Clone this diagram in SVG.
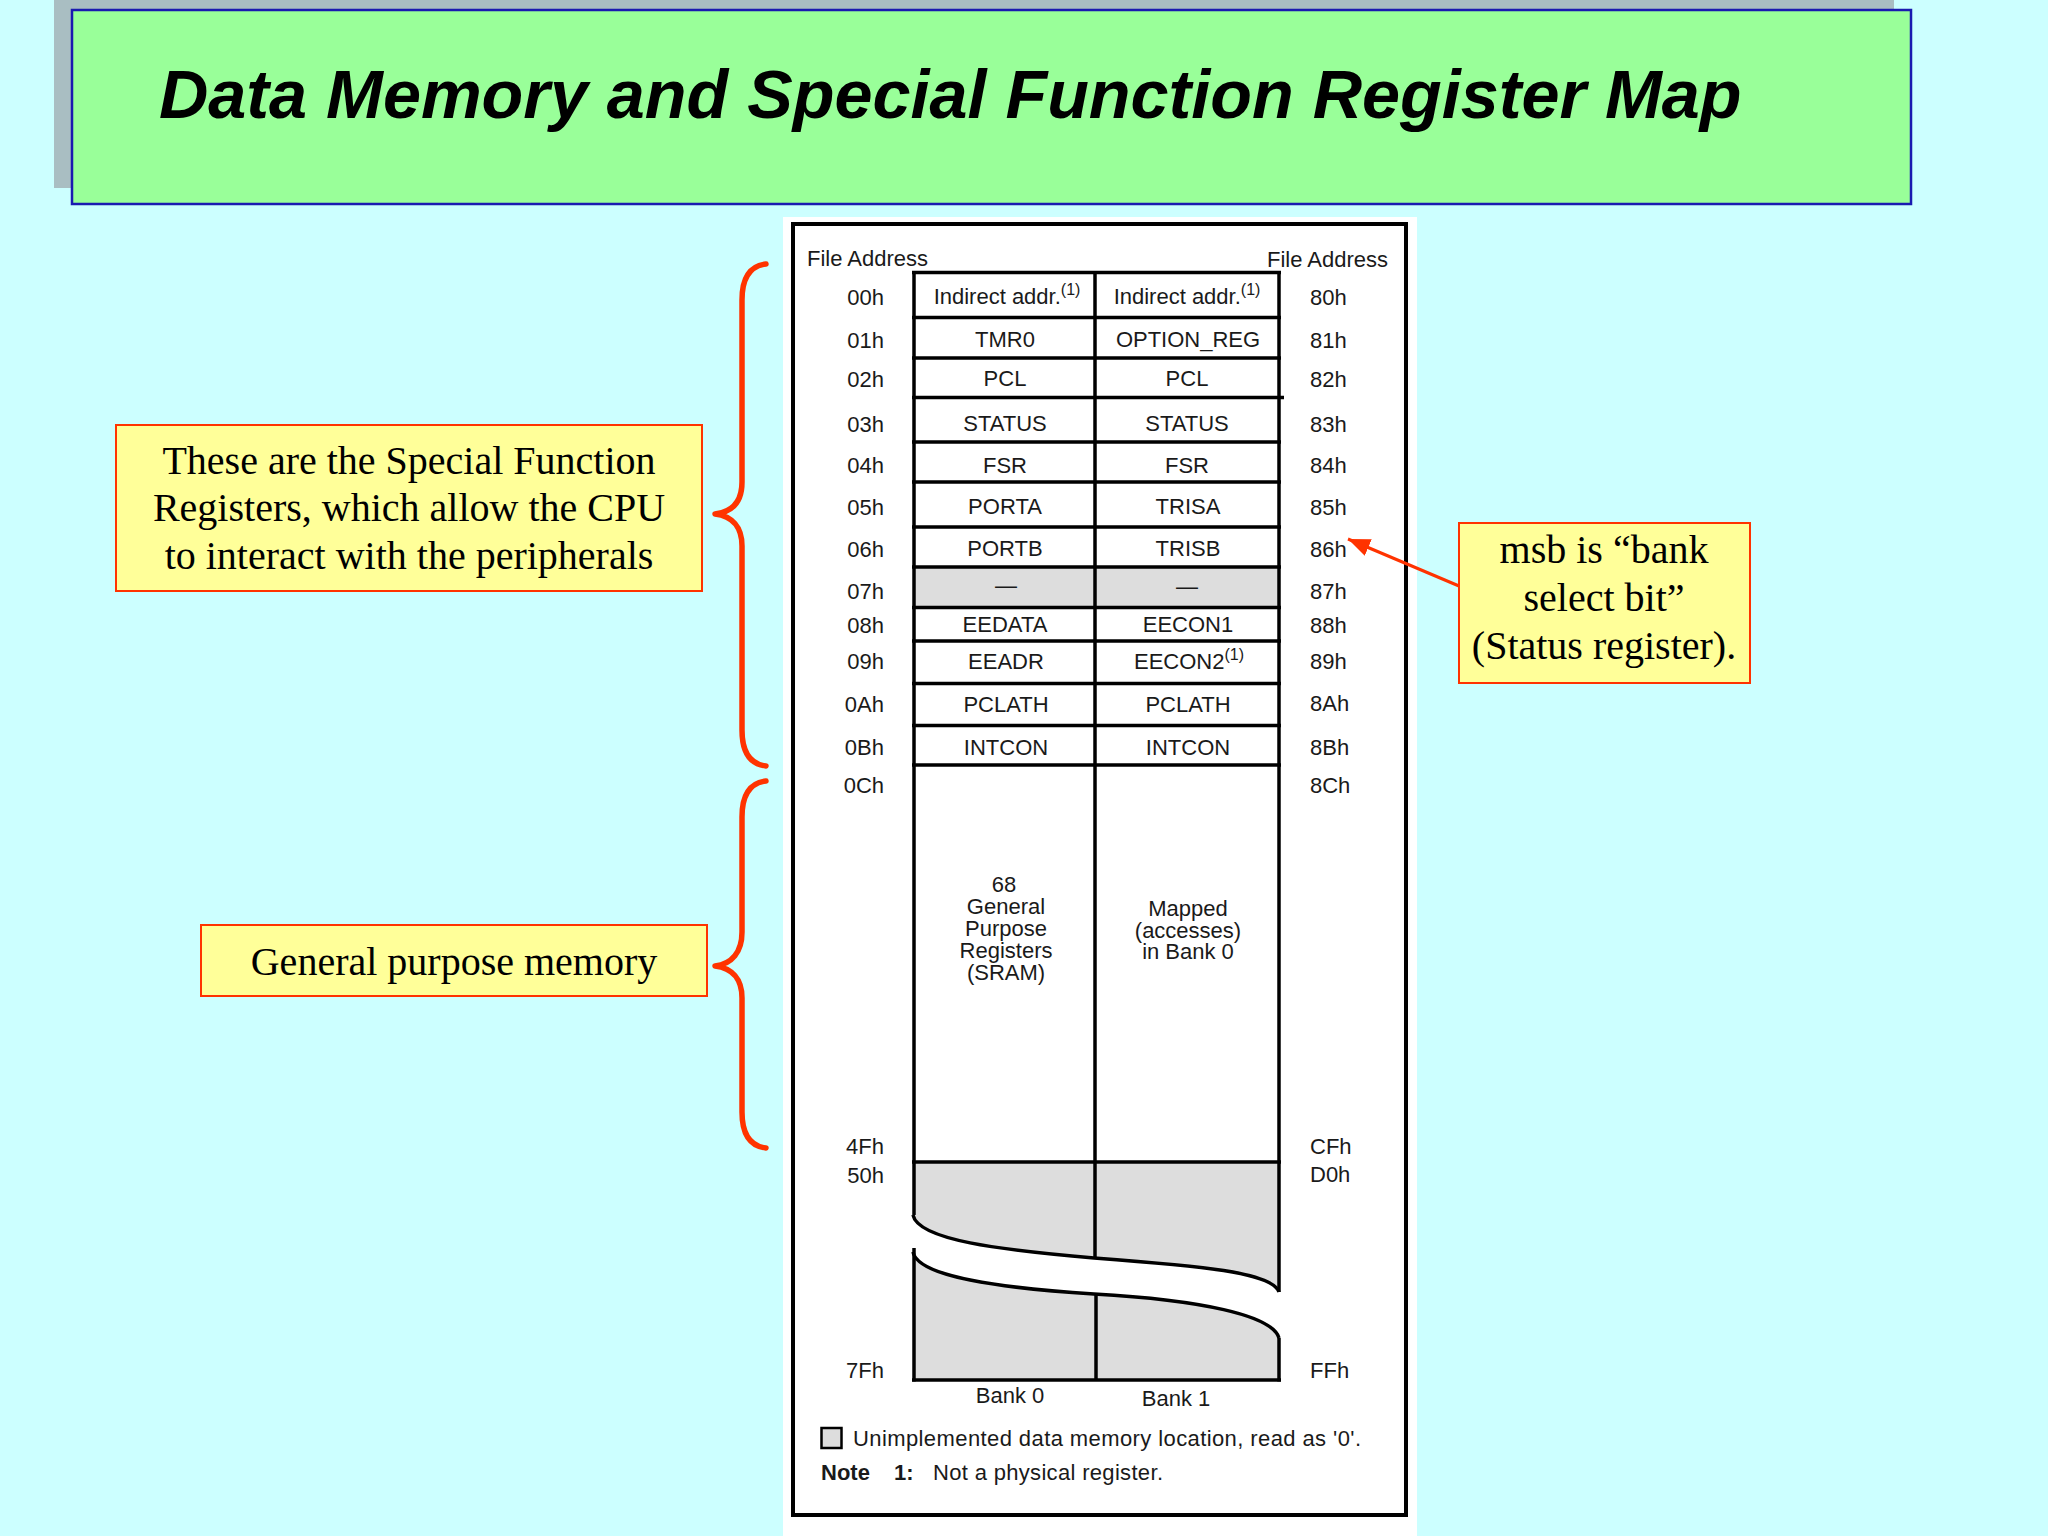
<svg xmlns="http://www.w3.org/2000/svg" width="2048" height="1536" viewBox="0 0 2048 1536">
<style>
.bg{fill:#CCFFFF}
.cs{font-family:"Liberation Sans",Arial,sans-serif;font-size:22px;fill:#1A1A1A}
.addrL{text-anchor:end}
.mid{text-anchor:middle}
.sup{font-size:16px}
.tl{stroke:#000;stroke-width:3.5;fill:none}
.gray{fill:#DDDDDD}
.note{fill:#FFFF99;stroke:#FF3300;stroke-width:2}
.nt{font-family:"Liberation Serif","Times New Roman",serif;font-size:40px;fill:#000;text-anchor:middle}
.red{stroke:#FF3300;fill:none;stroke-width:5.5;stroke-linecap:round;stroke-linejoin:round}
</style>
<defs>
<marker id="ah" markerUnits="userSpaceOnUse" markerWidth="24" markerHeight="18" refX="22" refY="9" orient="auto">
<path d="M0,0 L22,9 L0,18 Z" fill="#FF3300"/>
</marker>
</defs>
<rect class="bg" x="0" y="0" width="2048" height="1536"/>

<g id="title">
<rect x="54" y="0" width="1840" height="188" fill="#A9BEC2"/>
<rect x="72" y="10" width="1839" height="194" fill="#99FF99" stroke="#1A1AB0" stroke-width="2.5"/>
<text x="159" y="118" font-family="'Liberation Sans',Arial,sans-serif" font-size="68.3" font-weight="bold" font-style="italic" fill="#000">Data Memory and Special Function Register Map</text>
</g>

<g id="register-map">
<rect x="783" y="217" width="634" height="1319" fill="#FFFFFF"/>
<rect x="793" y="224" width="613" height="1291" fill="none" stroke="#000" stroke-width="4"/>
<text class="cs" x="807" y="266">File Address</text>
<text class="cs" x="1267" y="267">File Address</text>

<rect class="gray" x="914" y="567" width="365" height="40.5"/>
<path class="gray" d="M913,1162 L1279,1162 L1279,1292 C1272,1272 1200,1266 1094,1258 C1000,1250 918,1240 913,1215 Z"/>
<path class="gray" d="M913,1252 C918,1277 1000,1288 1094,1294 C1200,1300 1272,1315 1279,1338 L1279,1380 L913,1380 Z"/>

<g class="tl">
<line x1="912" y1="272.5" x2="1281" y2="272.5"/>
<line x1="912" y1="317.5" x2="1281" y2="317.5"/>
<line x1="912" y1="358" x2="1281" y2="358"/>
<line x1="912" y1="397.5" x2="1284" y2="397.5"/>
<line x1="912" y1="442" x2="1281" y2="442"/>
<line x1="912" y1="482" x2="1281" y2="482"/>
<line x1="912" y1="527" x2="1281" y2="527"/>
<line x1="912" y1="567" x2="1281" y2="567"/>
<line x1="912" y1="607.5" x2="1281" y2="607.5"/>
<line x1="912" y1="641" x2="1281" y2="641"/>
<line x1="912" y1="683.5" x2="1281" y2="683.5"/>
<line x1="912" y1="725.5" x2="1281" y2="725.5"/>
<line x1="912" y1="765" x2="1281" y2="765"/>
<line x1="912" y1="1162" x2="1281" y2="1162"/>
<line x1="914" y1="271" x2="914" y2="1215"/>
<line x1="1095" y1="271" x2="1095" y2="1258"/>
<line x1="1279" y1="271" x2="1279" y2="1292"/>
<path d="M913,1215 C918,1240 1000,1250 1094,1258 C1200,1266 1272,1272 1279,1292"/>
<path d="M913,1252 C918,1277 1000,1288 1094,1294 C1200,1300 1272,1315 1279,1338"/>
<line x1="914" y1="1248" x2="914" y2="1381.5"/>
<line x1="1279" y1="1338" x2="1279" y2="1381.5"/>
<line x1="1096" y1="1294" x2="1096" y2="1380"/>
<line x1="912" y1="1380" x2="1281" y2="1380"/>
</g>

<g class="cs addrL">
<text x="884" y="305">00h</text>
<text x="884" y="348">01h</text>
<text x="884" y="387">02h</text>
<text x="884" y="432">03h</text>
<text x="884" y="473">04h</text>
<text x="884" y="515">05h</text>
<text x="884" y="557">06h</text>
<text x="884" y="599">07h</text>
<text x="884" y="633">08h</text>
<text x="884" y="669">09h</text>
<text x="884" y="712">0Ah</text>
<text x="884" y="755">0Bh</text>
<text x="884" y="793">0Ch</text>
<text x="884" y="1154">4Fh</text>
<text x="884" y="1183">50h</text>
<text x="884" y="1378">7Fh</text>
</g>
<g class="cs">
<text x="1310" y="305">80h</text>
<text x="1310" y="348">81h</text>
<text x="1310" y="387">82h</text>
<text x="1310" y="432">83h</text>
<text x="1310" y="473">84h</text>
<text x="1310" y="515">85h</text>
<text x="1310" y="557">86h</text>
<text x="1310" y="599">87h</text>
<text x="1310" y="633">88h</text>
<text x="1310" y="669">89h</text>
<text x="1310" y="711">8Ah</text>
<text x="1310" y="755">8Bh</text>
<text x="1310" y="793">8Ch</text>
<text x="1310" y="1154">CFh</text>
<text x="1310" y="1182">D0h</text>
<text x="1310" y="1378">FFh</text>
</g>

<g class="cs mid">
<text x="1007" y="304">Indirect addr.<tspan class="sup" dy="-9">(1)</tspan></text>
<text x="1187" y="304">Indirect addr.<tspan class="sup" dy="-9">(1)</tspan></text>
<text x="1005" y="347">TMR0</text>
<text x="1188" y="347">OPTION_REG</text>
<text x="1005" y="386">PCL</text>
<text x="1187" y="386">PCL</text>
<text x="1005" y="431">STATUS</text>
<text x="1187" y="431">STATUS</text>
<text x="1005" y="473">FSR</text>
<text x="1187" y="473">FSR</text>
<text x="1005" y="514">PORTA</text>
<text x="1188" y="514">TRISA</text>
<text x="1005" y="556">PORTB</text>
<text x="1188" y="556">TRISB</text>
<text x="1006" y="593">—</text>
<text x="1187" y="594">—</text>
<text x="1005" y="632">EEDATA</text>
<text x="1188" y="632">EECON1</text>
<text x="1006" y="669">EEADR</text>
<text x="1189" y="669">EECON2<tspan class="sup" dy="-9">(1)</tspan></text>
<text x="1006" y="712">PCLATH</text>
<text x="1188" y="712">PCLATH</text>
<text x="1006" y="755">INTCON</text>
<text x="1188" y="755">INTCON</text>
<text x="1004" y="892">68</text>
<text x="1006" y="914">General</text>
<text x="1006" y="936">Purpose</text>
<text x="1006" y="958">Registers</text>
<text x="1006" y="980">(SRAM)</text>
<text x="1188" y="916">Mapped</text>
<text x="1188" y="938">(accesses)</text>
<text x="1188" y="959">in Bank 0</text>
<text x="1010" y="1403">Bank 0</text>
<text x="1176" y="1406">Bank 1</text>
</g>

<rect x="821.5" y="1428" width="20" height="20" fill="#DDDDDD" stroke="#000" stroke-width="2.5"/>
<text class="cs" x="853" y="1446" textLength="508" lengthAdjust="spacing">Unimplemented data memory location, read as '0'.</text>
<text class="cs" x="821" y="1480" font-weight="bold">Note</text>
<text class="cs" x="894" y="1480" font-weight="bold">1:</text>
<text class="cs" x="933" y="1480" textLength="230" lengthAdjust="spacing">Not a physical register.</text>
</g>

<g id="sfr-note">
<rect class="note" x="116" y="425" width="586" height="166"/>
<text class="nt" x="409" y="474">These are the Special Function</text>
<text class="nt" x="409" y="521">Registers, which allow the CPU</text>
<text class="nt" x="409" y="569">to interact with the peripherals</text>
</g>

<g id="gp-note">
<rect class="note" x="201" y="925" width="506" height="71"/>
<text class="nt" x="454" y="975">General purpose memory</text>
</g>

<g id="bank-note">
<rect class="note" x="1459" y="523" width="291" height="160"/>
<text class="nt" x="1604" y="563">msb is “bank</text>
<text class="nt" x="1604" y="611">select bit”</text>
<text class="nt" x="1604" y="659">(Status register).</text>
</g>

<g id="connectors">
<path class="red" d="M766,264 C749,266 742,279 742,300 L742,482 C742,502 732,512 715,514 C732,516 742,527 742,546 L742,730 C742,751 749,764 766,766"/>
<path class="red" d="M766,781 C749,783 742,796 742,817 L742,932 C742,952 732,964 715,966 C732,968 742,979 742,998 L742,1112 C742,1133 749,1146 766,1148"/>
<line x1="1459" y1="586" x2="1348" y2="539" stroke="#FF3300" stroke-width="3" marker-end="url(#ah)"/>
</g>
</svg>
